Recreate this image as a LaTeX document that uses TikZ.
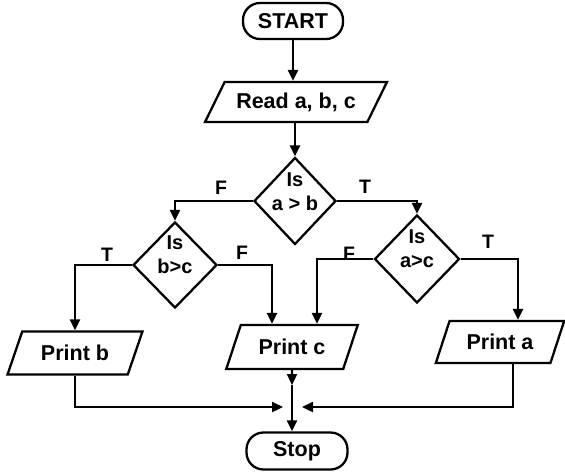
\documentclass[tikz,border=0pt]{standalone}
\usepackage{fontspec}
\setmainfont{Liberation Sans}
\usetikzlibrary{shapes.geometric,arrows.meta,calc}
\begin{document}
\begin{tikzpicture}[x=1pt,y=-1pt,
  every node/.style={font=\bfseries\fontsize{21.5}{24}\selectfont},
  base/.style={draw=black, line width=2.3pt},
  term/.style={base, rectangle, rounded corners=17pt, minimum width=100pt, minimum height=36pt, inner sep=0pt},
  io/.style={base, trapezium, trapezium stretches=true, inner sep=0pt},
  dia/.style={base, diamond, inner sep=0pt},
  dtext/.style={align=center, font=\bfseries\fontsize{20}{24}\selectfont, inner sep=0pt},
  lab/.style={font=\bfseries\fontsize{19.5}{21}\selectfont, inner sep=0pt},
  arr/.style={line width=2.3pt, -{Triangle[length=11pt,width=10pt]}}
]
\useasboundingbox (0,0) rectangle (565,472);

\node[term] (start) at (293,21) {START};
\node[io, trapezium left angle=49, trapezium right angle=131, minimum width=182pt, minimum height=40pt] (read) at (296,102) {Read a, b, c};
\node[dia, minimum width=82pt, minimum height=87pt] (ab) at (295,201) {};
\node[dia, minimum width=84pt, minimum height=86pt] (bc) at (175,265) {};
\node[dia, minimum width=85pt, minimum height=88pt] (ac) at (417,259) {};
\node[dtext] (abt) at ([yshift=9pt]ab.center) {Is\\a > b};
\node[dtext] (bct) at ([yshift=10pt]bc.center) {Is\\b>c};
\node[dtext] (act) at ([yshift=10pt]ac.center) {Is\\a>c};
\node[io, trapezium left angle=59, trapezium right angle=121, minimum width=136pt, minimum height=43pt] (printb) at (75,353) {Print b};
\node[io, trapezium left angle=59, trapezium right angle=121, minimum width=132pt, minimum height=44pt] (printc) at (292,347) {Print c};
\node[io, trapezium left angle=60, trapezium right angle=120, minimum width=129pt, minimum height=42pt] (printa) at (500,342) {Print a};
\node[term, minimum width=101pt, minimum height=37pt] (stop) at (297,451) {Stop};

\coordinate (mL) at (283,407);
\coordinate (mR) at (302,407);
\coordinate (m1) at (292,385);

\draw[arr] (start.south) -- (start.south |- read.north);
\draw[arr] (read.south -| ab.north) -- (ab.north);
\draw[arr] (ab.west) -| (bc.north);
\draw[arr] (ab.east) -| (ac.north);
\draw[arr] (bc.west) -| (printb.north);
\draw[arr] (bc.east) -| ([xshift=-20pt]printc.north);
\draw[arr] (ac.west) -| ([xshift=25pt]printc.north);
\draw[arr] (ac.east) -| ([xshift=18pt]printa.north);
\draw[arr] (printc.south) -- (m1);
\draw[arr] (m1) -- (m1 |- stop.north);
\draw[arr] (printb.south) |- (mL);
\draw[arr] ([xshift=13pt]printa.south) |- (mR);

\node[lab] (lF1) at (221,188) {F};
\node[lab] (lT1) at (365,187) {T};
\node[lab] (lF2) at (242,253) {F};
\node[lab] (lF3) at (349,254) {F};
\node[lab] (lT2) at (107,255) {T};
\node[lab] (lT3) at (488,242) {T};
\end{tikzpicture}
\end{document}
